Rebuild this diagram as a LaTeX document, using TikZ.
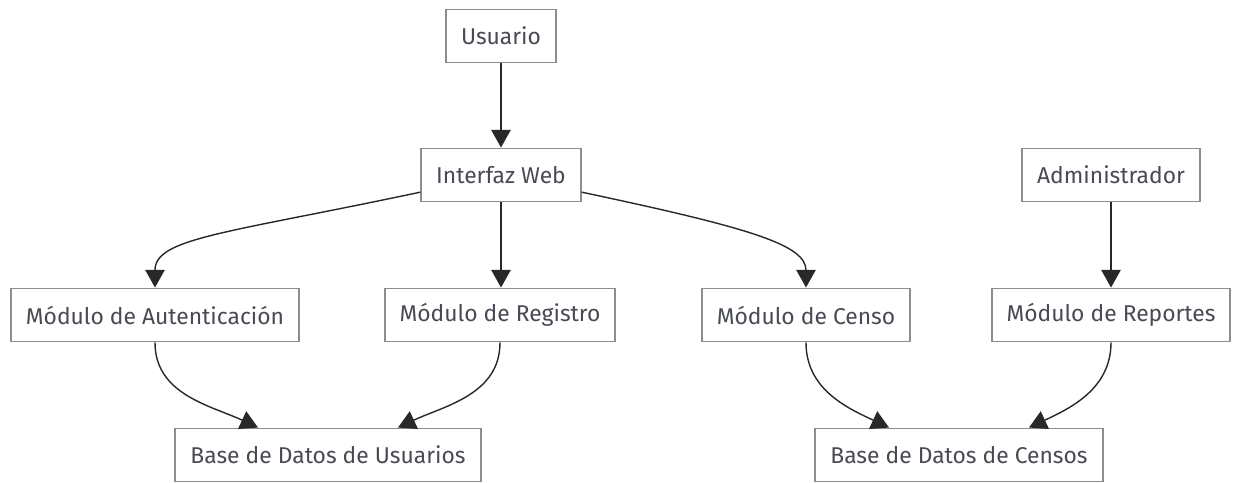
\documentclass[tikz,border=0pt]{standalone}
\usepackage{fontspec}
\setmainfont{Fira Sans}
\usetikzlibrary{arrows.meta}
\definecolor{boxline}{RGB}{140,140,146}
\definecolor{boxtext}{RGB}{72,74,84}
\definecolor{edgeline}{RGB}{40,40,40}
\tikzset{
  modbox/.style={draw=boxline, line width=1.1pt, fill=white, text=boxtext,
    font=\fontsize{13}{15}\selectfont, minimum height=1.06cm, inner xsep=0.3cm},
  arr/.style={draw=edgeline, line width=0.8pt, -{Triangle[width=11pt,length=10pt]}}
}
\begin{document}
\begin{tikzpicture}[x=0.02cm, y=-0.02cm]
\useasboundingbox (0,0) rectangle (1235,483);
\node[modbox] (usr) at (501,36) {Usuario};
\node[modbox] (web) at (501,175) {Interfaz Web};
\node[modbox] (adm) at (1111,175) {Administrador};
\node[modbox] (aut) at (155,315) {Módulo de Autenticación};
\node[modbox] (reg) at (500,315) {Módulo de Registro};
\node[modbox] (cen) at (806,315) {Módulo de Censo};
\node[modbox] (rep) at (1111,315) {Módulo de Reportes};
\node[modbox] (bdu) at (328,455) {Base de Datos de Usuarios};
\node[modbox] (bdc) at (959,455) {Base de Datos de Censos};
\draw[arr] (usr) -- (web);
\draw[arr] (web.192) to[out=192, in=90, out looseness=1.8, in looseness=0.45] (aut.north);
\draw[arr] (web) -- (web |- reg.north);
\draw[arr] (web.348) to[out=-12, in=90, out looseness=1.8, in looseness=0.45] (cen.north);
\draw[arr] (adm) -- (rep);
\draw[arr] (aut.south) to[out=-90, in=155] ([xshift=-1.4cm]bdu.north);
\draw[arr] (reg.south) to[out=-90, in=25] ([xshift=1.4cm]bdu.north);
\draw[arr] (cen.south) to[out=-90, in=155] ([xshift=-1.4cm]bdc.north);
\draw[arr] (rep.south) to[out=-90, in=25] ([xshift=1.4cm]bdc.north);
\end{tikzpicture}
\end{document}
